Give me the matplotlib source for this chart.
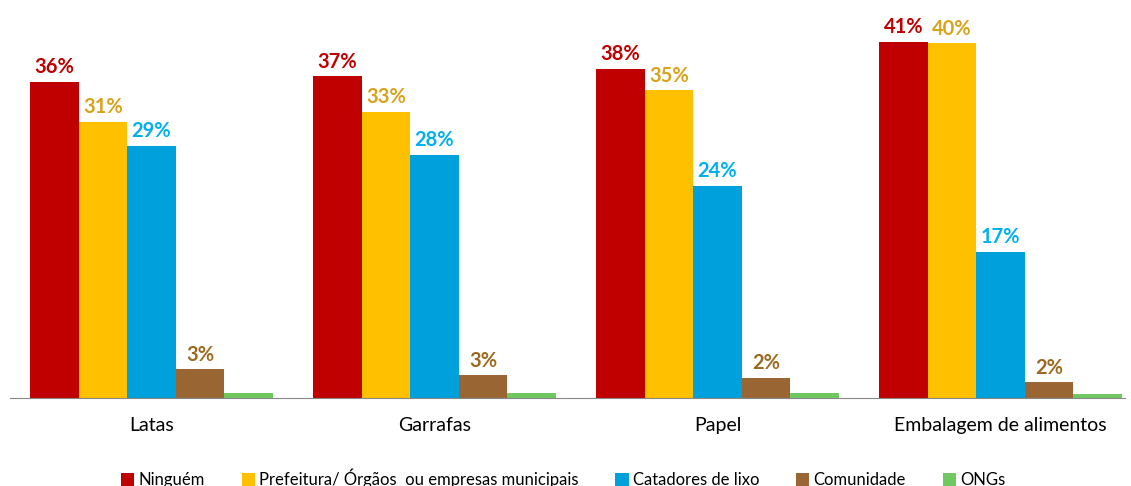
import matplotlib
matplotlib.use("Agg")
import matplotlib.pyplot as plt
import numpy as np

categories = ["Latas", "Garrafas", "Papel", "Embalagem de alimentos"]
series = ["Ninguém", "Prefeitura/ Órgãos  ou empresas municipais", "Catadores de lixo", "Comunidade", "ONGs"]
ninguem = [36.4, 37.0, 37.9, 41.0]
prefeitura = [31.8, 32.9, 35.4, 40.8]
catadores = [29.0, 28.0, 24.4, 16.8]
comunidade = [3.3, 2.6, 2.3, 1.8]
ongs = [0.6, 0.6, 0.6, 0.5]
labels_ninguem = ["36%", "37%", "38%", "41%"]
labels_prefeitura = ["31%", "33%", "35%", "40%"]
labels_catadores = ["29%", "28%", "24%", "17%"]
labels_comunidade = ["3%", "3%", "2%", "2%"]
values = [ninguem, prefeitura, catadores, comunidade, ongs]
labels = [labels_ninguem, labels_prefeitura, labels_catadores, labels_comunidade, None]

bar_colors = ["#C00000", "#FFC000", "#00A0DC", "#996633", "#70C860"]
label_colors = ["#C00000", "#D9A21B", "#00B0F0", "#9C6A1E", "#70C860"]

plt.rcParams['font.family'] = ['Lato', 'DejaVu Sans']
fig = plt.figure(figsize=(11.31, 4.86), dpi=100)
W, H = 1131, 486
ax = fig.add_axes([10 / W, 88 / H, (1125 - 10) / W, (486 - 88 - 15) / H])

x = np.arange(len(categories))
bw = 243 / 283 / 5
for k, (vals, c) in enumerate(zip(values, bar_colors)):
    pos = x - 2 * bw + k * bw
    ax.bar(pos, vals, width=bw, color=c, label=series[k])
    if labels[k] is not None:
        for p, v, t in zip(pos, vals, labels[k]):
            ax.text(p, v + 0.55, t, ha="center", va="bottom",
                    fontsize=14.5, fontweight="bold", color=label_colors[k])

ax.set_xlim(-0.5, (1125 - 151.5) / 283)
ax.set_ylim(0, 383 / 8.69)
ax.set_xticks(x)
ax.set_xticklabels(categories, fontsize=14)
ax.tick_params(axis="x", length=0, pad=14)
ax.set_yticks([])
for s in ["top", "right", "left"]:
    ax.spines[s].set_visible(False)
ax.spines["bottom"].set_color("#888888")

fig.legend(loc="lower center", bbox_to_anchor=(0.498, -0.035), ncol=5, frameon=False,
           fontsize=12, handlelength=0.8, handleheight=0.8, handletextpad=0.25,
           columnspacing=2.2)

fig.savefig("out.png", dpi=100)
